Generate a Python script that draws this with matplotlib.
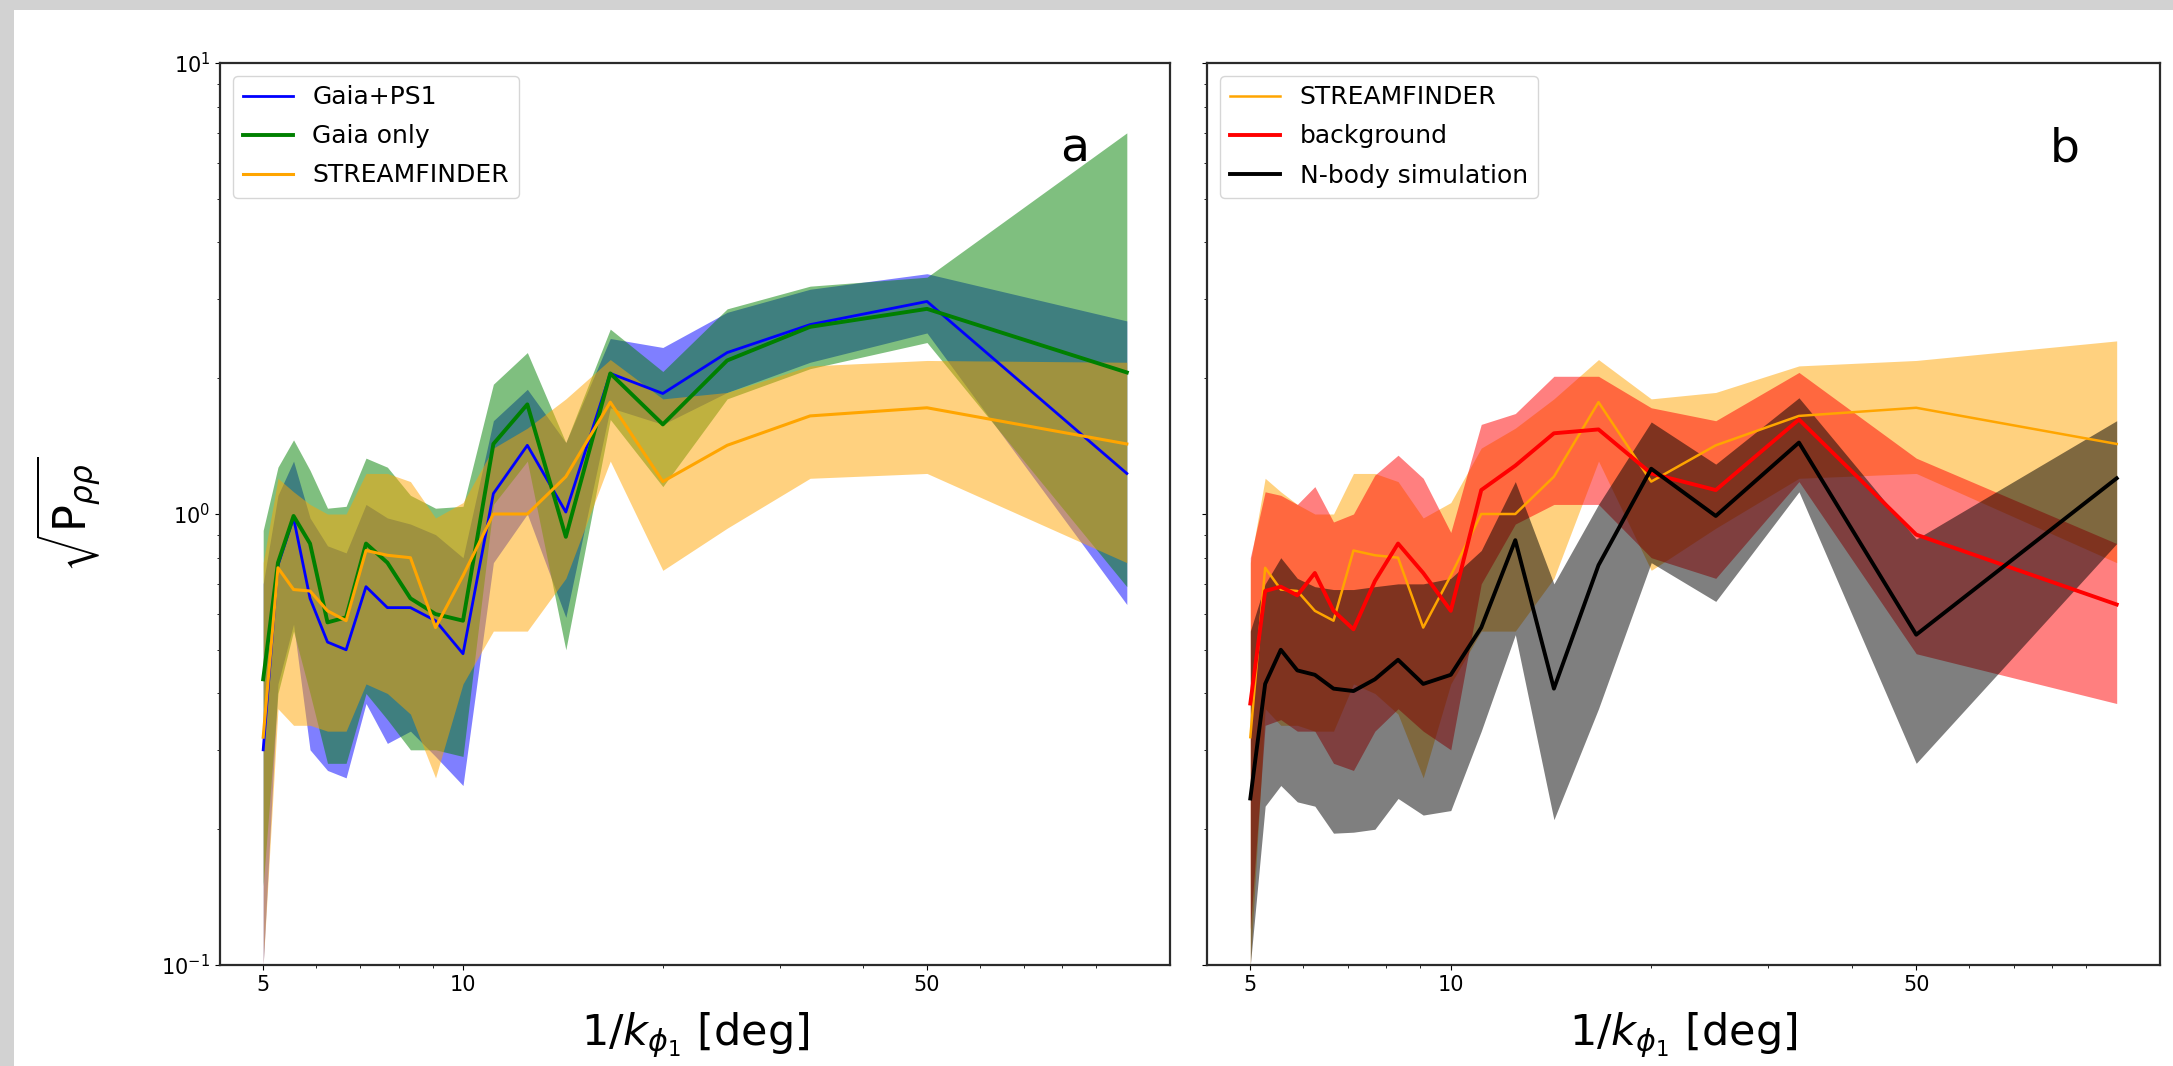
import numpy as np
import matplotlib
matplotlib.use('Agg')
import matplotlib.pyplot as plt
from matplotlib.patches import Rectangle
from matplotlib.ticker import ScalarFormatter, NullFormatter

# wavenumbers along phi1 (1/deg)
k_phi1 = np.array([0.20, 0.19, 0.18, 0.17, 0.16, 0.15, 0.14, 0.13, 0.12, 0.11,
                   0.10, 0.09, 0.08, 0.07, 0.06, 0.05, 0.04, 0.03, 0.02, 0.01])
scale_deg = 1.0 / k_phi1

# panel a
ps1_mid = [0.30, 0.77, 0.98, 0.65, 0.52, 0.50, 0.69, 0.62, 0.62, 0.58,
           0.49, 1.11, 1.42, 1.01, 2.05, 1.85, 2.28, 2.63, 2.96, 1.23]
ps1_hi = [0.70, 1.10, 1.31, 0.98, 0.85, 0.82, 1.05, 0.98, 0.95, 0.90,
          0.80, 1.61, 1.89, 1.44, 2.45, 2.34, 2.80, 3.15, 3.41, 2.68]
ps1_lo = [0.10, 0.42, 0.57, 0.30, 0.27, 0.26, 0.38, 0.31, 0.33, 0.29,
          0.25, 0.78, 1.00, 0.59, 1.72, 1.58, 1.86, 2.17, 2.52, 0.63]

gaia_mid = [0.43, 0.78, 0.99, 0.86, 0.575, 0.59, 0.86, 0.78, 0.65, 0.60,
            0.58, 1.43, 1.75, 0.89, 2.05, 1.58, 2.19, 2.60, 2.85, 2.06]
gaia_hi = [0.92, 1.27, 1.46, 1.25, 1.03, 1.04, 1.33, 1.27, 1.10, 1.03,
           1.04, 1.94, 2.28, 1.44, 2.57, 2.07, 2.85, 3.20, 3.35, 7.00]
gaia_lo = [0.15, 0.40, 0.55, 0.40, 0.28, 0.28, 0.40, 0.35, 0.30, 0.30,
           0.29, 1.05, 1.31, 0.50, 1.62, 1.15, 1.80, 2.10, 2.40, 0.69]

# STREAMFINDER (both panels)
sf_mid = [0.32, 0.76, 0.68, 0.675, 0.61, 0.58, 0.83, 0.81, 0.80, 0.56,
          0.73, 1.00, 1.00, 1.21, 1.77, 1.18, 1.42, 1.65, 1.72, 1.43]
sf_hi_a = [0.78, 1.20, 1.12, 1.05, 1.00, 1.00, 1.23, 1.23, 1.18, 0.98,
           1.06, 1.40, 1.55, 1.80, 2.20, 1.80, 1.86, 2.13, 2.19, 2.17]
sf_hi_b = [0.78, 1.20, 1.12, 1.05, 1.00, 1.00, 1.23, 1.23, 1.18, 0.98,
           1.06, 1.40, 1.55, 1.80, 2.20, 1.80, 1.86, 2.13, 2.19, 2.42]
sf_lo = [0.10, 0.37, 0.34, 0.34, 0.33, 0.33, 0.42, 0.40, 0.36, 0.26,
         0.42, 0.55, 0.55, 0.72, 1.31, 0.75, 0.93, 1.20, 1.23, 0.78]

# panel b
bg_mid = [0.38, 0.675, 0.69, 0.66, 0.74, 0.61, 0.555, 0.71, 0.86, 0.74,
          0.61, 1.13, 1.28, 1.51, 1.54, 1.23, 1.13, 1.62, 0.90, 0.63]
bg_hi = [0.80, 1.12, 1.10, 1.05, 1.15, 0.96, 1.00, 1.22, 1.35, 1.20,
         0.91, 1.58, 1.67, 2.02, 2.02, 1.72, 1.61, 2.06, 1.33, 0.86]
bg_lo = [0.12, 0.34, 0.35, 0.33, 0.33, 0.28, 0.27, 0.33, 0.37, 0.33,
         0.30, 0.70, 0.95, 1.05, 1.05, 0.80, 0.72, 1.18, 0.49, 0.38]

nbody_mid = [0.234, 0.42, 0.50, 0.45, 0.44, 0.41, 0.405, 0.43, 0.475, 0.42,
             0.44, 0.56, 0.875, 0.41, 0.77, 1.26, 0.99, 1.44, 0.54, 1.20]
nbody_hi = [0.55, 0.70, 0.80, 0.72, 0.69, 0.68, 0.68, 0.69, 0.70, 0.70,
            0.72, 0.83, 1.18, 0.70, 1.05, 1.60, 1.29, 1.81, 0.88, 1.61]
nbody_lo = [0.10, 0.225, 0.25, 0.23, 0.225, 0.196, 0.197, 0.20, 0.234, 0.215,
            0.22, 0.33, 0.54, 0.21, 0.37, 0.78, 0.64, 1.12, 0.28, 0.86]

xticks = [5, 10, 50]


def draw_series(ax, mid, lo, hi, color, label, lw):
    ax.plot(scale_deg, mid, color=color, lw=lw, label=label)
    ax.fill_between(scale_deg, lo, hi, color=color, alpha=0.5, lw=0)


fig = plt.figure(figsize=(21.73, 10.66), dpi=100)
fig.patch.set_facecolor('white')
# screenshot frame
fig.add_artist(Rectangle((0, 1 - 10 / 1066), 1, 10 / 1066, transform=fig.transFigure,
                         facecolor='#d2d2d2', edgecolor='none'))
fig.add_artist(Rectangle((0, 0), 14 / 2173, 1, transform=fig.transFigure,
                         facecolor='#d2d2d2', edgecolor='none'))

ax_a = fig.add_axes([220 / 2173, 101 / 1066, 950 / 2173, 902 / 1066])
ax_b = fig.add_axes([1207 / 2173, 101 / 1066, 953 / 2173, 902 / 1066], sharey=ax_a)

draw_series(ax_a, ps1_mid, ps1_lo, ps1_hi, 'blue', 'Gaia+PS1', 2.0)
draw_series(ax_a, gaia_mid, gaia_lo, gaia_hi, 'green', 'Gaia only', 2.8)
draw_series(ax_a, sf_mid, sf_lo, sf_hi_a, 'orange', 'STREAMFINDER', 2.2)

draw_series(ax_b, sf_mid, sf_lo, sf_hi_b, 'orange', 'STREAMFINDER', 1.8)
draw_series(ax_b, bg_mid, bg_lo, bg_hi, 'red', 'background', 2.8)
draw_series(ax_b, nbody_mid, nbody_lo, nbody_hi, 'black', 'N-body simulation', 2.8)

for ax, letter in [(ax_a, 'a'), (ax_b, 'b')]:
    ax.set_xscale('log')
    ax.set_yscale('log')
    ax.set_ylim(0.1, 10)
    ax.set_xticks(xticks)
    ax.xaxis.set_major_formatter(ScalarFormatter())
    ax.xaxis.set_minor_formatter(NullFormatter())
    ax.tick_params(labelsize=15)
    ax.set_xlabel(r'$1/k_{\phi_1}$ [deg]', fontsize=31)
    ax.xaxis.set_label_coords(0.5, -0.05)
    for sp in ax.spines.values():
        sp.set_linewidth(1.6)
        sp.set_color('#2b2b2b')
    ax.legend(loc='upper left', fontsize=18, labelspacing=0.6)
    ax.text(0.90, 0.905, letter, transform=ax.transAxes, fontsize=34,
            ha='center', va='center')

ax_b.tick_params(labelleft=False)
ax_a.set_ylabel(r'$\sqrt{\mathrm{P}_{\rho\rho}}$', fontsize=32)
ax_a.yaxis.set_label_coords(-0.122, 0.5)

fig.savefig('out.png', dpi=100)
